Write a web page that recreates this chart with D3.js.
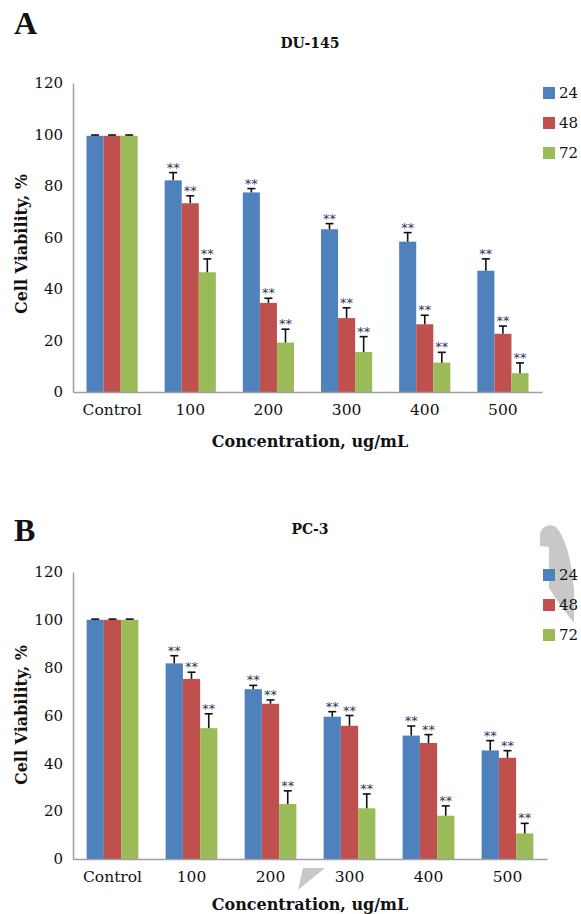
<!DOCTYPE html>
<html>
<head>
<meta charset="utf-8">
<script src="https://cdn.jsdelivr.net/npm/d3@7"></script>
<style>
  body { margin: 0; background: #fff; }
  text { font-family: "DejaVu Serif", "Liberation Serif", serif; fill: #111; }
</style>
</head>
<body>
<svg width="581" height="914"></svg>
<script>
// shared labels
var categories = ["Control", "100", "200", "300", "400", "500"];
var series = ["24", "48", "72"];
var colors = ["#4F81BD", "#C0504D", "#9BBB59"];
var yTicks = [0, 20, 40, 60, 80, 100, 120];
var signif = ["", "**", "**", "**", "**", "**"];

// DU-145 means and error (upper only)
var du145_24 = [99.5, 82.2, 77.5, 63.2, 58.4, 47.1];
var du145_48 = [99.5, 73.3, 34.6, 28.7, 26.3, 22.6];
var du145_72 = [99.5, 46.5, 19.2, 15.5, 11.4, 7.3];
var du145_24_err = [0.3, 3.0, 1.5, 2.2, 3.5, 4.6];
var du145_48_err = [0.3, 2.9, 1.8, 4.0, 3.5, 3.0];
var du145_72_err = [0.3, 5.2, 5.2, 6.0, 4.0, 4.0];

// PC-3
var pc3_24 = [100, 81.8, 71.0, 59.5, 51.6, 45.4];
var pc3_48 = [100, 75.3, 64.9, 55.7, 48.5, 42.3];
var pc3_72 = [100, 54.7, 23.0, 21.2, 18.1, 10.7];
var pc3_24_err = [0.3, 3.2, 1.6, 2.1, 4.0, 4.1];
var pc3_48_err = [0.3, 2.8, 1.6, 4.3, 3.5, 3.0];
var pc3_72_err = [0.3, 6.0, 5.5, 6.0, 4.1, 4.2];

var svg = d3.select("svg");
svg.append("rect").attr("width", 581).attr("height", 914).attr("fill", "#fff");

// grey scan artefacts present in the source image (drawn underneath)
svg.append("path")
    .attr("d", "M540,546 L540,535 C541,526 550,523 556,527 C565,537 572,560 574,590 L574,623 L560,605 L549,588 L549,547 Z")
    .attr("fill", "#c8c8c8");
svg.append("path")
    .attr("d", "M303,868 L325,868 L298,890 Z")
    .attr("fill", "#c8c8c8");

function drawPanel(p) {
    var g = svg.append("g");

    var x0 = d3.scaleBand()
        .domain(categories)
        .range([p.left, p.right])
        .paddingInner(0.345)
        .paddingOuter(0.1725);

    var x1 = d3.scaleBand()
        .domain(series)
        .range([0, x0.bandwidth()]);

    var y = d3.scaleLinear()
        .domain([0, 120])
        .range([p.bottom, p.top]);

    // build rows from arrays
    var rows = [];
    categories.forEach(function(c, i) {
        series.forEach(function(s, j) {
            rows.push({cat: c, s: s, j: j, v: p.values[j][i], e: p.errs[j][i], sig: signif[i]});
        });
    });

    // bars
    g.selectAll("rect.bar")
        .data(rows)
        .enter().append("rect")
        .attr("class", "bar")
        .attr("x", function(d) { return x0(d.cat) + x1(d.s); })
        .attr("y", function(d) { return y(d.v); })
        .attr("width", x1.bandwidth())
        .attr("height", function(d) { return y(0) - y(d.v); })
        .attr("fill", function(d) { return colors[d.j]; });

    // error bars, upper half only
    var eb = g.selectAll("g.err")
        .data(rows)
        .enter().append("g")
        .attr("class", "err")
        .attr("stroke", "#111")
        .attr("stroke-width", 1.6);
    eb.append("line")
        .attr("x1", function(d) { return x0(d.cat) + x1(d.s) + x1.bandwidth() / 2; })
        .attr("x2", function(d) { return x0(d.cat) + x1(d.s) + x1.bandwidth() / 2; })
        .attr("y1", function(d) { return y(d.v); })
        .attr("y2", function(d) { return y(d.v + d.e); });
    eb.append("line")
        .attr("x1", function(d) { return x0(d.cat) + x1(d.s) + x1.bandwidth() / 2 - 4; })
        .attr("x2", function(d) { return x0(d.cat) + x1(d.s) + x1.bandwidth() / 2 + 4; })
        .attr("y1", function(d) { return y(d.v + d.e); })
        .attr("y2", function(d) { return y(d.v + d.e); });

    // significance stars
    g.selectAll("text.sig")
        .data(rows.filter(function(d) { return d.sig; }))
        .enter().append("text")
        .attr("class", "sig")
        .attr("x", function(d) { return x0(d.cat) + x1(d.s) + x1.bandwidth() / 2; })
        .attr("y", function(d) { return y(d.v + d.e) - 1; })
        .attr("text-anchor", "middle")
        .style("font-family", "DejaVu Sans, sans-serif")
        .style("font-size", "13px")
        .style("fill", "#2d3560")
        .text(function(d) { return d.sig; });

    // axes
    var yAxis = g.append("g")
        .attr("transform", "translate(" + p.left + ",0)")
        .call(d3.axisLeft(y).tickValues(yTicks).tickSize(0).tickPadding(10));
    yAxis.select(".domain").attr("stroke", "#a0a0a0").attr("stroke-width", 1.5);
    yAxis.selectAll("text").style("font-family", "DejaVu Serif, serif").style("font-size", "15px").attr("fill", "#111");

    var xAxis = g.append("g")
        .attr("transform", "translate(0," + p.bottom + ")")
        .call(d3.axisBottom(x0).tickSize(0).tickPadding(12));
    xAxis.select(".domain").attr("stroke", "#a0a0a0").attr("stroke-width", 1.5);
    xAxis.selectAll("text").style("font-family", "DejaVu Serif, serif").style("font-size", "15.5px").attr("fill", "#111");

    // titles
    g.append("text")
        .attr("x", 14).attr("y", p.letterY)
        .style("font-family", "Liberation Serif, serif")
        .style("font-weight", "bold").style("font-size", "32px")
        .text(p.letter);
    g.append("text")
        .attr("x", 310).attr("y", p.titleY)
        .attr("text-anchor", "middle")
        .style("font-weight", "bold").style("font-size", "14px")
        .text(p.title);
    g.append("text")
        .attr("transform", "translate(27," + p.ylabY + ") rotate(-90)")
        .attr("text-anchor", "middle")
        .style("font-weight", "bold").style("font-size", "16px")
        .text("Cell Viability, %");
    g.append("text")
        .attr("x", 310).attr("y", p.bottom + p.xlabDy)
        .attr("text-anchor", "middle")
        .style("font-weight", "bold").style("font-size", "16px")
        .text("Concentration, ug/mL");

    // legend
    var leg = g.selectAll("g.leg")
        .data(series)
        .enter().append("g")
        .attr("class", "leg")
        .attr("transform", function(d, i) { return "translate(543," + (p.legendY + i * 30) + ")"; });
    leg.append("rect")
        .attr("y", -6).attr("width", 12).attr("height", 12)
        .attr("fill", function(d, i) { return colors[i]; });
    leg.append("text")
        .attr("x", 16).attr("dy", "0.36em")
        .style("font-size", "15px")
        .text(function(d) { return d; });
}

drawPanel({
    letter: "A", title: "DU-145", letterY: 34, titleY: 48, ylabY: 244, xlabDy: 55,
    left: 73, right: 542, top: 83, bottom: 392, legendY: 93,
    values: [du145_24, du145_48, du145_72],
    errs: [du145_24_err, du145_48_err, du145_72_err]
});

drawPanel({
    letter: "B", title: "PC-3", letterY: 541, titleY: 534, ylabY: 715, xlabDy: 51,
    left: 73, right: 547, top: 572, bottom: 859, legendY: 575,
    values: [pc3_24, pc3_48, pc3_72],
    errs: [pc3_24_err, pc3_48_err, pc3_72_err]
});
</script>
</body>
</html>
